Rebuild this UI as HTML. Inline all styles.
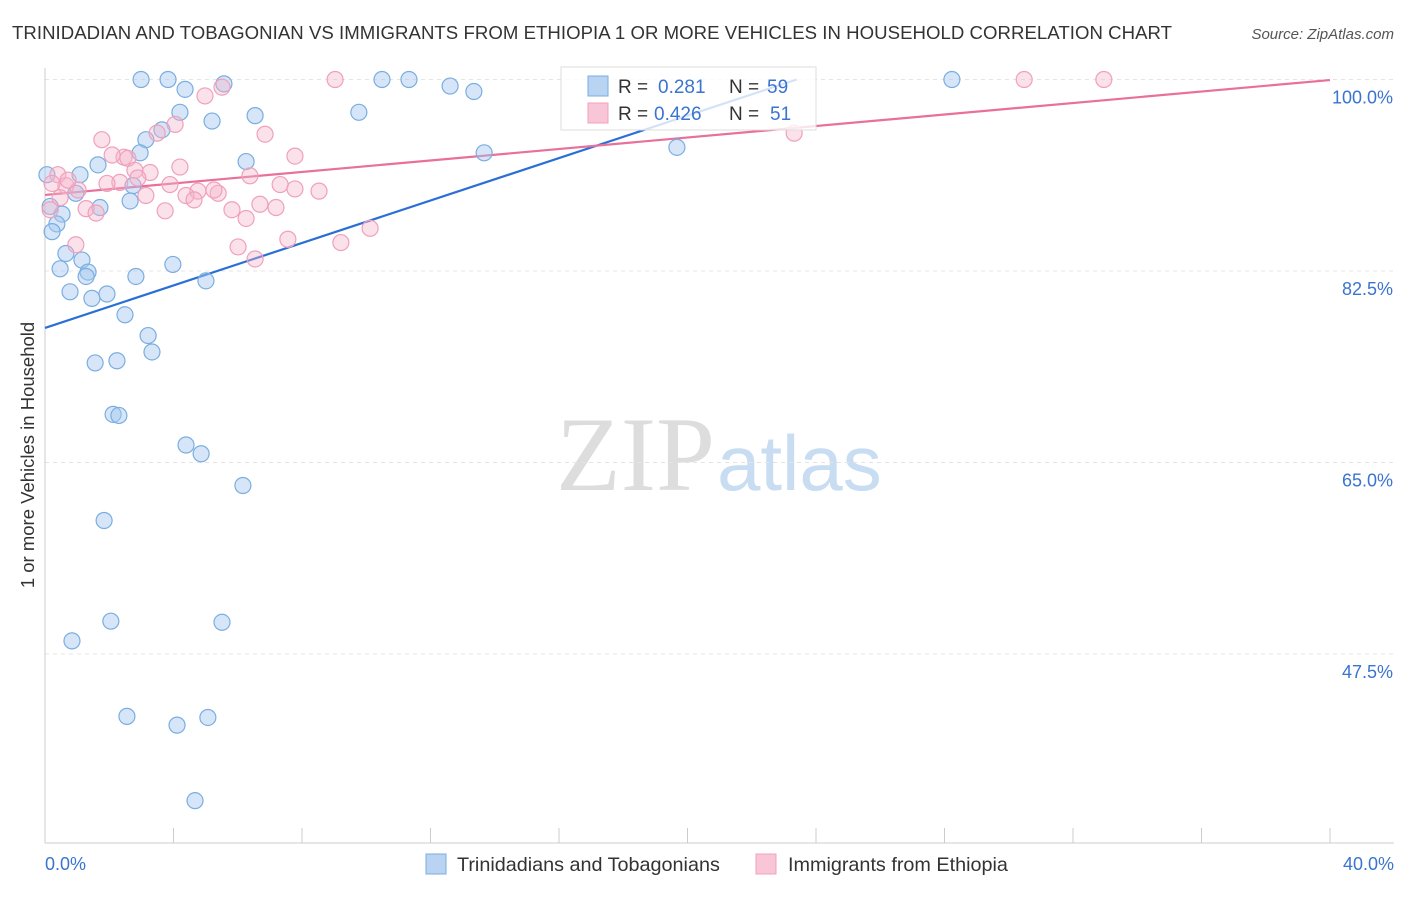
<!DOCTYPE html>
<html><head><meta charset="utf-8"><style>
body{margin:0;background:#fff;font-family:"Liberation Sans",sans-serif;}
svg text{font-family:"Liberation Sans",sans-serif;}
</style></head><body>
<svg id="c" width="1406" height="892" xmlns="http://www.w3.org/2000/svg">
<text x="12" y="39" font-size="18.6" fill="#333" textLength="1160">TRINIDADIAN AND TOBAGONIAN VS IMMIGRANTS FROM ETHIOPIA 1 OR MORE VEHICLES IN HOUSEHOLD CORRELATION CHART</text>
<text x="1394" y="39" font-size="15" fill="#555" font-style="italic" text-anchor="end">Source: ZipAtlas.com</text>
<text x="715" y="490" font-size="106" fill="#ddd" text-anchor="end" style="font-family:'Liberation Serif',serif">ZIP</text>
<text x="717" y="490" font-size="78" fill="#c8dcf2">atlas</text>
<g id="grid"></g><g id="axes"></g><g id="lines"></g><g id="pts"></g>
<text transform="translate(34,455) rotate(-90)" font-size="18.5" fill="#333" text-anchor="middle">1 or more Vehicles in Household</text>
<text x="45" y="870" font-size="18" fill="#3a74d0">0.0%</text>
<text x="1394" y="870" font-size="18" fill="#3a74d0" text-anchor="end">40.0%</text>
<g>
<rect x="561" y="67" width="255" height="63" fill="#fff" fill-opacity="0.8" stroke="#ddd"/>
<rect x="588" y="76" width="20" height="20" fill="#b9d3f3" stroke="#7aaee0"/>
<rect x="588" y="103" width="20" height="20" fill="#f8c6d6" stroke="#f0a0bc"/>
<text x="618" y="93" font-size="19" fill="#333">R =</text><text x="658" y="93" font-size="19" fill="#3a74d0">0.281</text>
<text x="729" y="93" font-size="19" fill="#333">N =</text><text x="767" y="93" font-size="19" fill="#3a74d0">59</text>
<text x="618" y="120" font-size="19" fill="#333">R =</text><text x="654" y="120" font-size="19" fill="#3a74d0">0.426</text>
<text x="729" y="120" font-size="19" fill="#333">N =</text><text x="770" y="120" font-size="19" fill="#3a74d0">51</text>
</g>
<g>
<rect x="426" y="854" width="20" height="20" fill="#b9d3f3" stroke="#7aaee0"/>
<text x="457" y="871" font-size="19.8" fill="#333">Trinidadians and Tobagonians</text>
<rect x="756" y="854" width="20" height="20" fill="#f8c6d6" stroke="#f0a0bc"/>
<text x="788" y="871" font-size="19.8" fill="#333">Immigrants from Ethiopia</text>
</g>
</svg>
<script>
const yTicks=[100,82.5,65,47.5];
const yTickLabels=["100.0%","82.5%","65.0%","47.5%"];
const xTicks=[0,4,8,12,16,20,24,28,32,36,40];
const blueX=[2.99,3.83,5.57,10.49,11.33,12.61,13.35,28.23,4.20,5.20,6.54,9.77,4.36,3.64,3.14,2.96,1.65,1.09,2.74,2.65,0.96,1.71,0.53,0.37,0.22,6.26,13.67,19.67,0.06,0.16,0.65,1.15,0.47,1.34,1.28,2.83,3.98,5.01,0.78,1.46,1.93,2.49,3.21,3.33,1.56,2.24,2.12,2.30,4.39,4.86,6.16,1.84,2.05,5.51,0.84,2.55,5.07,4.11,4.67];
const blueY=[100,100,99.6,100,100,99.4,98.9,100,97.0,96.2,96.7,97.0,99.1,95.4,94.5,93.3,92.2,91.3,90.3,88.9,89.6,88.3,87.7,86.8,86.1,92.5,93.3,93.8,91.3,88.4,84.1,83.5,82.7,82.4,82.0,82.0,83.1,81.6,80.6,80.0,80.4,78.5,76.6,75.1,74.1,74.3,69.4,69.3,66.6,65.8,62.9,59.7,50.5,50.4,48.7,41.8,41.7,41.0,34.1];
const pinkX=[9.03,30.48,32.96,5.51,4.98,4.05,3.49,1.77,6.85,23.32,2.46,2.09,2.58,7.78,4.20,0.40,2.80,3.27,2.33,2.89,1.93,6.38,3.89,0.65,1.03,0.22,7.32,7.78,8.53,4.76,5.39,5.26,4.39,4.64,3.14,5.82,1.28,1.59,6.69,7.19,3.74,6.26,6.01,7.56,9.21,10.12,6.54,0.96,0.47,0.16,0.72];
const pinkY=[100,100,100,99.3,98.5,95.9,95.1,94.5,95.0,95.1,92.9,93.1,92.8,93.0,92.0,91.3,91.7,91.5,90.6,91.0,90.5,91.2,90.4,90.3,89.9,90.5,90.4,90.0,89.8,89.8,89.6,89.9,89.4,89.0,89.4,88.1,88.2,87.8,88.6,88.3,88.0,87.3,84.7,85.4,85.1,86.4,83.6,84.9,89.2,88.1,90.8];
const blueTrend=[[0,77.3],[23.4,100]];
const pinkTrend=[[0,89.45],[40,99.95]];
const X=v=>45+v*32.125, Y=v=>79.5+(100-v)*10.943;
const NS="http://www.w3.org/2000/svg";
function mk(t,a,p){const e=document.createElementNS(NS,t);for(const k in a)e.setAttribute(k,a[k]);document.getElementById(p).appendChild(e);return e;}
yTicks.forEach((t,i)=>{
 const g=mk('line',{x1:45,x2:1394,y1:Y(t),y2:Y(t),stroke:'#e4e4e4','stroke-dasharray':'4,4'},'grid');
 
 
 const l=mk('text',{x:1393,y:Y(t)+24,'font-size':18,fill:'#3a74d0','text-anchor':'end'},'grid');
 l.textContent=yTickLabels[i];
 
 
});
let a=mk('line',{x1:45,x2:45,y1:68,y2:843,stroke:'#ccc'},'axes');


a=mk('line',{x1:45,x2:1394,y1:843,y2:843,stroke:'#ccc'},'axes');


xTicks.forEach(t=>{const e=mk('line',{x1:X(t),x2:X(t),y1:828,y2:843,stroke:'#ccc'},'axes');
 
 });
function pts(xs,ys,fill,stroke,name){xs.forEach((x,i)=>{const c=mk('circle',{cx:X(x),cy:Y(ys[i]),r:8,fill:fill,stroke:stroke,'stroke-width':1.2},'pts');
 
 });}
pts(blueX,blueY,'rgba(164,200,240,0.45)','#7aaee0','trinidadian-point');
pts(pinkX,pinkY,'rgba(245,180,200,0.4)','#f0a0bc','ethiopia-point');
let t=mk('line',{x1:X(blueTrend[0][0]),y1:Y(blueTrend[0][1]),x2:X(blueTrend[1][0]),y2:Y(blueTrend[1][1]),stroke:'#2a6fd6','stroke-width':2.2},'lines');


t=mk('line',{x1:X(pinkTrend[0][0]),y1:Y(pinkTrend[0][1]),x2:X(pinkTrend[1][0]),y2:Y(pinkTrend[1][1]),stroke:'#e8709a','stroke-width':2.2},'lines');


</script>
</body></html>
